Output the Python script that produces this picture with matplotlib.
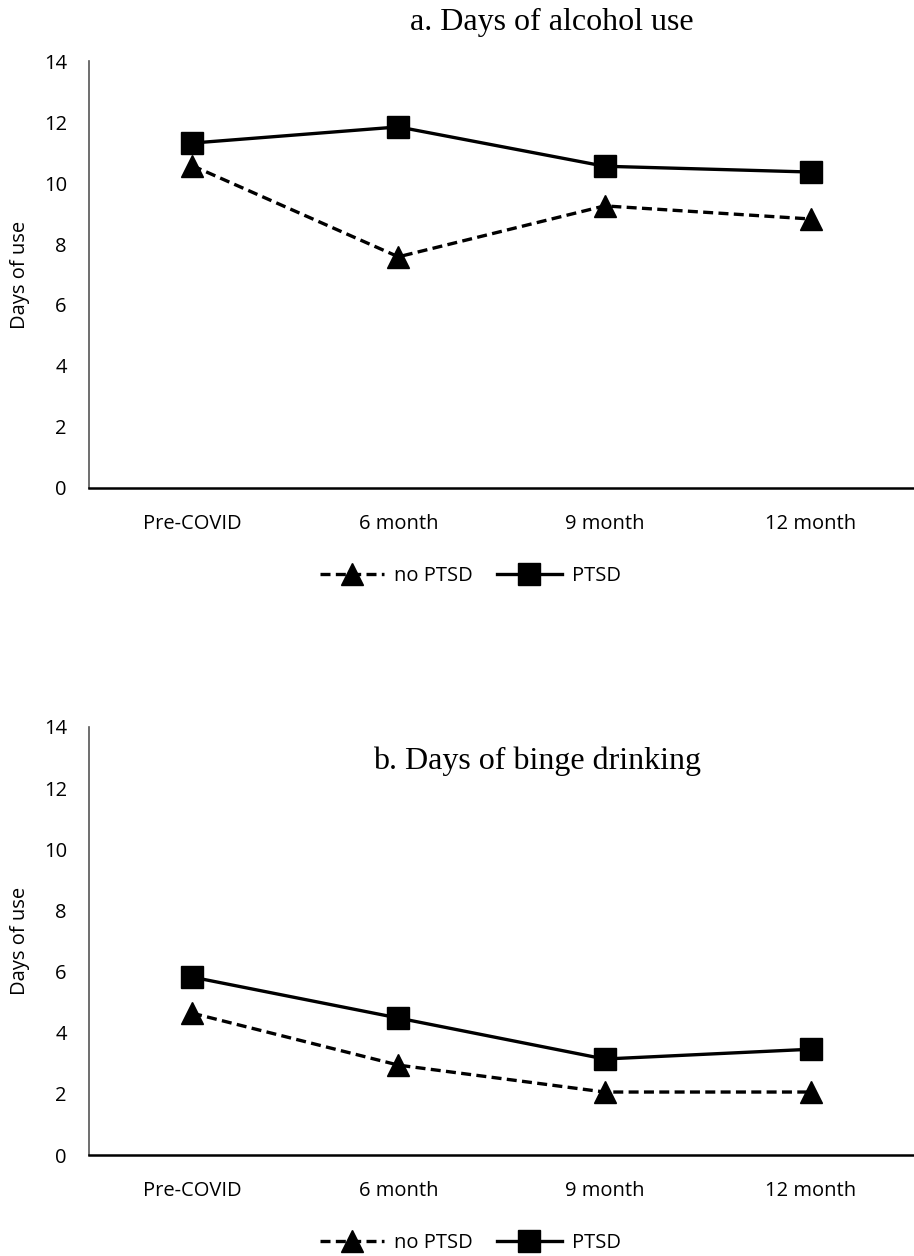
import matplotlib.pyplot as plt

categories = ['Pre-COVID', '6 month', '9 month', '12 month']

alcohol_no_ptsd = [10.57, 7.58, 9.25, 8.82]
alcohol_ptsd = [11.31, 11.84, 10.55, 10.36]

binge_no_ptsd = [4.64, 2.94, 2.06, 2.06]
binge_ptsd = [5.82, 4.48, 3.14, 3.46]

yticks = [0, 2, 4, 6, 8, 10, 12, 14]

plt.rcParams['font.family'] = ['Open Sans', 'DejaVu Sans']

fig = plt.figure(figsize=(9.14, 12.56), dpi=100)
ax1 = fig.add_axes([0.0974, 0.6115, 0.9026, 0.3399])
ax2 = fig.add_axes([0.0974, 0.0804, 0.9026, 0.3408])


def draw(ax, no_ptsd, ptsd, title, title_x, title_y):
    x = range(len(categories))
    ax.plot(x, no_ptsd, color='black', lw=2.4, ls=(0, (3, 1.6)),
            marker='^', ms=16, label='no PTSD')
    ax.plot(x, ptsd, color='black', lw=2.4, marker='s', ms=16, label='PTSD')
    ax.set_xlim(-0.5, 3.5)
    ax.set_ylim(0, 14)
    ax.set_yticks(yticks)
    ax.set_xticks(list(x))
    ax.set_xticklabels(categories)
    ax.tick_params(length=0, labelsize=14.5)
    ax.tick_params(axis='x', pad=19)
    ax.tick_params(axis='y', pad=16)
    for s in ['top', 'right']:
        ax.spines[s].set_visible(False)
    ax.spines['left'].set_color('#555555')
    ax.spines['left'].set_linewidth(1.2)
    ax.spines['bottom'].set_linewidth(1.8)
    ax.set_ylabel('Days of use', fontsize=14.5)
    ax.yaxis.set_label_coords(-0.072, 0.5)
    ax.text(title_x, title_y, title, transform=ax.transAxes, ha='center',
            va='center', fontsize=23, family='Liberation Serif')
    ax.legend(loc='upper center', bbox_to_anchor=(0.462, -0.141), ncol=2,
              frameon=False, fontsize=14.5, handlelength=3.2,
              columnspacing=1.2, handletextpad=0.5)


draw(ax1, alcohol_no_ptsd, alcohol_ptsd, 'a. Days of alcohol use', 0.561, 1.09)
draw(ax2, binge_no_ptsd, binge_ptsd, 'b. Days of binge drinking', 0.543, 0.92)

fig.savefig('out.png', dpi=100)
